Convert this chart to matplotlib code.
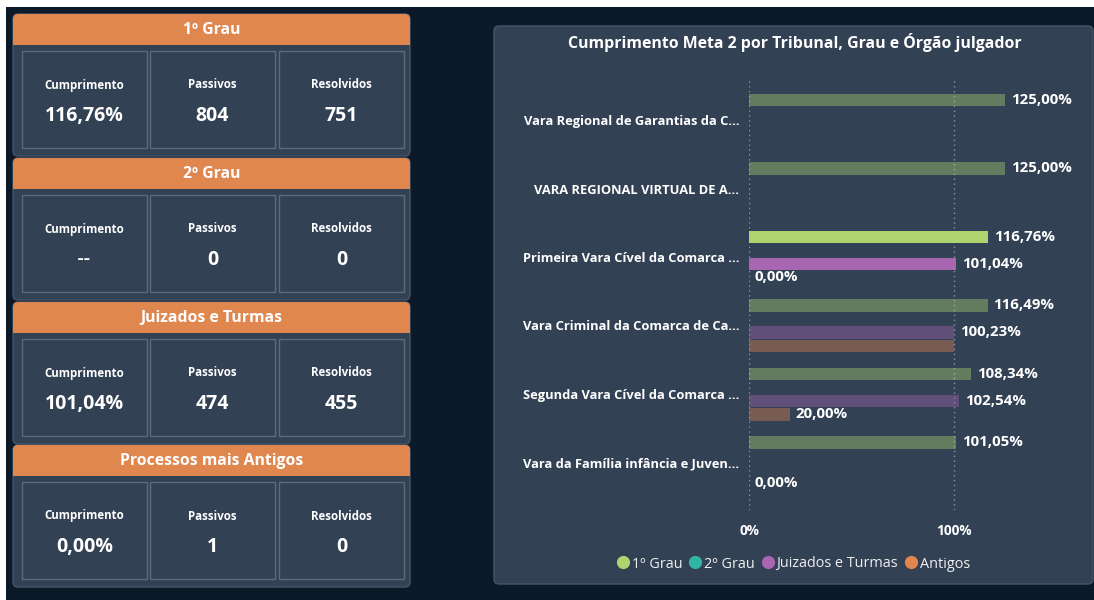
import matplotlib
matplotlib.use("Agg")
import matplotlib.pyplot as plt
from matplotlib.patches import FancyBboxPatch, Rectangle
from matplotlib.lines import Line2D

W, H = 1094, 600
plt.rcParams['font.family'] = ['Open Sans', 'DejaVu Sans']

# ---------------- KPI cards data ----------------
card_titles = ["1º Grau", "2º Grau", "Juizados e Turmas", "Processos mais Antigos"]
kpi_labels = ["Cumprimento", "Passivos", "Resolvidos"]
kpi_cumprimento = ["116,76%", "--", "101,04%", "0,00%"]
kpi_passivos = ["804", "0", "474", "1"]
kpi_resolvidos = ["751", "0", "455", "0"]

# ---------------- Bar chart data ----------------
chart_title = "Cumprimento Meta 2 por Tribunal, Grau e Órgão julgador"
orgaos = [
    "Vara Regional de Garantias da C...",
    "VARA REGIONAL VIRTUAL DE A...",
    "Primeira Vara Cível da Comarca ...",
    "Vara Criminal da Comarca de Ca...",
    "Segunda Vara Cível da Comarca ...",
    "Vara da Família infância e Juven...",
]
series_names = ["1º Grau", "2º Grau", "Juizados e Turmas", "Antigos"]
grau1 = [125.00, 125.00, 116.76, 116.49, 108.34, 101.05]
grau2 = [None, None, None, None, None, None]
juizados = [None, None, 101.04, 100.23, 102.54, None]
antigos = [None, None, 0.00, 100.00, 20.00, 0.00]
antigos_label_visible = [False, False, True, False, True, True]
highlighted = "Primeira Vara Cível da Comarca ..."
x_ticks = [0, 100]
x_tick_labels = ["0%", "100%"]

# ---------------- Styles ----------------
PAGE = '#0B1929'
PANEL = '#334155'
EDGE = '#46546A'
BOXEDGE = '#5E6A7A'
ORANGE = '#E0874F'
series_colors = ['#ADD46F', '#2FB5A6', '#A866B0', '#E0874F']
TXT = 'white'

fig = plt.figure(figsize=(W / 100, H / 100), dpi=100, facecolor='white')
bg = fig.add_axes([0, 0, 1, 1])
bg.set_xlim(0, W)
bg.set_ylim(H, 0)
bg.axis('off')
bg.add_patch(Rectangle((6, 7), W - 6, H - 7, facecolor=PAGE, edgecolor='none'))

# ---------------- KPI cards ----------------
card_tops = [14, 158, 302, 445]
kpi_values = [kpi_cumprimento, kpi_passivos, kpi_resolvidos]
cx0, cx1 = 13, 410
box_x = [22, 150, 279]
box_w = 125
for k, top in enumerate(card_tops):
    bg.add_patch(FancyBboxPatch((cx0, top), cx1 - cx0, 142,
                                boxstyle="round,pad=0,rounding_size=5",
                                fc=PANEL, ec=EDGE, lw=1))
    bg.add_patch(FancyBboxPatch((cx0, top), cx1 - cx0, 31,
                                boxstyle="round,pad=0,rounding_size=5",
                                fc=ORANGE, ec='none'))
    bg.add_patch(Rectangle((cx0, top + 15), cx1 - cx0, 16, fc=ORANGE, ec='none'))
    bg.text((cx0 + cx1) / 2, top + 16, card_titles[k], ha='center', va='center',
            color=TXT, fontsize=11.3, fontweight='bold')
    for j, bx in enumerate(box_x):
        bg.add_patch(Rectangle((bx, top + 37), box_w, 97, fc='none', ec=BOXEDGE, lw=1))
        bg.text(bx + box_w / 2, top + 71, kpi_labels[j], ha='center', va='center',
                color=TXT, fontsize=8.3, fontweight='bold')
        val = kpi_values[j][k]
        fam = ['Lato', 'DejaVu Sans'] if val == "--" else ['Open Sans', 'DejaVu Sans']
        bg.text(bx + box_w / 2, top + 102, val, ha='center', va='center',
                color=TXT, fontsize=14, fontweight='bold', family=fam)

# ---------------- Chart panel ----------------
bg.add_patch(FancyBboxPatch((494, 26), 1093 - 494, 584 - 26,
                            boxstyle="round,pad=0,rounding_size=5",
                            fc=PANEL, ec=EDGE, lw=1))
bg.text(795, 42, chart_title, ha='center', va='center', color=TXT,
        fontsize=11.4, fontweight='bold')

# axes: x 0 -> px 749, 100 -> px 954 ; y from px 80 to 510
ax_left, ax_right = 749, 749 + 2.05 * 140
ax_top, ax_bot = 80, 510
ax = fig.add_axes([ax_left / W, 1 - ax_bot / H, (ax_right - ax_left) / W, (ax_bot - ax_top) / H])
ax.set_facecolor('none')
ax.set_xlim(0, 140)
cat_px = 68.5
ax.set_ylim((ax_bot - 120) / cat_px, (ax_top - 120) / cat_px)

slot = 13.5 / cat_px
bar_h = 12.5 / cat_px
all_series = [grau1, grau2, juizados, antigos]
for s, vals in enumerate(all_series):
    off = (s - 1.5) * slot
    for i, v in enumerate(vals):
        if v is None:
            continue
        alpha = 1.0 if orgaos[i] == highlighted else 0.4
        y = i + off
        ax.barh(y, v, height=bar_h, color=series_colors[s], alpha=alpha, zorder=3)
        show = True
        if s == 3 and not antigos_label_visible[i]:
            show = False
        if show:
            ax.annotate(f"{v:.2f}".replace('.', ',') + '%', (v, y), xytext=(4, 0),
                        textcoords='offset points', ha='left', va='center',
                        color=TXT, fontsize=10.8, fontweight='bold',
                        annotation_clip=False, zorder=5)

ax.set_yticks(range(len(orgaos)))
ax.set_yticklabels(orgaos, fontsize=9.3, fontweight='bold', color=TXT)
ax.set_xticks(x_ticks)
ax.set_xticklabels(x_tick_labels, fontsize=9.8, fontweight='bold', color=TXT)
ax.tick_params(axis='y', length=0, pad=7)
ax.tick_params(axis='x', length=0, pad=10)
for sp in ax.spines.values():
    sp.set_visible(False)
ax.grid(axis='x', linestyle=(0, (1, 2.5)), color='#8A94A3', lw=1, zorder=1)
ax.grid(axis='y', visible=False)

handles = [Line2D([], [], marker='o', ls='none', markersize=9.5,
                  markerfacecolor=c, markeredgecolor='none') for c in series_colors]
fig.legend(handles, series_names, loc='center', bbox_to_anchor=(793 / W, 1 - 564 / H),
           ncol=4, frameon=False, fontsize=10.4, labelcolor='#F0F0F0',
           handletextpad=0.1, columnspacing=0.4, handlelength=1.0)

fig.savefig('out.png', dpi=100, facecolor='white')
